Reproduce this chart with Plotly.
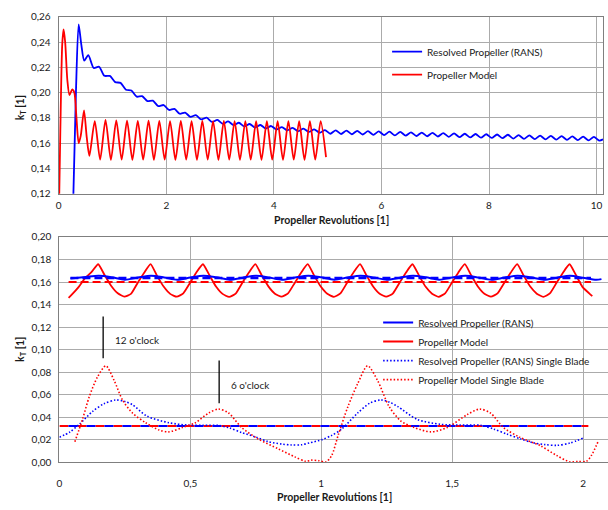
import plotly.graph_objects as go

# ---------------- TOP CHART DATA ----------------
top_rans_x = [0.27, 0.32, 0.37, 0.42, 0.475, 0.55, 0.65, 0.75,
              0.85, 0.95, 1.05, 1.15, 1.25, 1.35, 1.45, 1.55, 1.65, 1.75, 1.85, 1.95,
              2.05, 2.15, 2.25, 2.35, 2.45, 2.55, 2.65, 2.75, 2.85, 2.95,
              3.05, 3.15, 3.25, 3.35, 3.45, 3.55, 3.65, 3.75, 3.85, 3.95,
              4.05, 4.15, 4.25, 4.35, 4.45, 4.55, 4.65, 4.75, 4.85, 4.95,
              5.05, 5.15, 5.25, 5.35, 5.45, 5.55, 5.65, 5.75, 5.85, 5.95,
              6.05, 6.15, 6.25, 6.35, 6.45, 6.55, 6.65, 6.75, 6.85, 6.95,
              7.05, 7.15, 7.25, 7.35, 7.45, 7.55, 7.65, 7.75, 7.85, 7.95,
              8.05, 8.15, 8.25, 8.35, 8.45, 8.55, 8.65, 8.75, 8.85, 8.95,
              9.05, 9.15, 9.25, 9.35, 9.45, 9.55, 9.65, 9.75, 9.85, 9.95,
              10.05, 10.12]
top_rans_kt = [0.115, 0.200, 0.254, 0.238, 0.2253, 0.2297, 0.2195, 0.2205,
               0.2133, 0.2132, 0.2083, 0.2077, 0.2023, 0.2017, 0.1968, 0.1972, 0.1933, 0.1937, 0.1893, 0.1902,
               0.1863, 0.1872, 0.1833, 0.1842, 0.1808, 0.1822, 0.1788, 0.1802, 0.1768, 0.1784,
               0.1753, 0.1772, 0.1743, 0.1762, 0.1733, 0.1752, 0.1724, 0.1744, 0.1716, 0.1736,
               0.1708, 0.1728, 0.1701, 0.1722, 0.1695, 0.1716, 0.1689, 0.1710, 0.1683, 0.1704,
               0.1675, 0.1702, 0.1673, 0.1700, 0.1671, 0.1698, 0.1669, 0.1695, 0.1666, 0.1693,
               0.1664, 0.1691, 0.1662, 0.1689, 0.1660, 0.1686, 0.1657, 0.1684, 0.1655, 0.1682,
               0.1653, 0.1680, 0.1651, 0.1678, 0.1648, 0.1675, 0.1646, 0.1673, 0.1644, 0.1671,
               0.1642, 0.1669, 0.1640, 0.1667, 0.1637, 0.1664, 0.1635, 0.1662, 0.1633, 0.1660,
               0.1631, 0.1658, 0.1629, 0.1656, 0.1627, 0.1654, 0.1625, 0.1652, 0.1623, 0.1650,
               0.1621, 0.1630]

top_model_x = [0.0, 0.03, 0.065, 0.09, 0.12, 0.16, 0.20, 0.25, 0.29, 0.33, 0.37, 0.41, 0.47, 0.52, 0.57,
               0.67, 0.77, 0.87, 0.97, 1.07, 1.17, 1.27, 1.37, 1.47, 1.57, 1.67, 1.77, 1.87, 1.97,
               2.07, 2.17, 2.27, 2.37, 2.47, 2.57, 2.67, 2.77, 2.87, 2.97,
               3.07, 3.17, 3.27, 3.37, 3.47, 3.57, 3.67, 3.77, 3.87, 3.97,
               4.07, 4.17, 4.27, 4.37, 4.47, 4.57, 4.67, 4.77, 4.87, 4.97]
top_model_kt = [0.095, 0.170, 0.238, 0.250, 0.240, 0.210, 0.198, 0.2025, 0.200, 0.180, 0.160, 0.166, 0.186, 0.165, 0.150,
                0.1775, 0.1470, 0.1785, 0.1468, 0.1780, 0.1470, 0.1778, 0.1468, 0.1776, 0.1470, 0.1778, 0.1468, 0.1776, 0.1470,
                0.1775, 0.1468, 0.1776, 0.1470, 0.1774, 0.1468, 0.1776, 0.1470, 0.1775, 0.1468,
                0.1776, 0.1470, 0.1774, 0.1468, 0.1775, 0.1470, 0.1774, 0.1468, 0.1775, 0.1470,
                0.1774, 0.1468, 0.1775, 0.1470, 0.1774, 0.1468, 0.1775, 0.1470, 0.1775, 0.1490]

# ---------------- BOTTOM CHART DATA ----------------
bot_rans_x = [0.042, 0.10, 0.15, 0.20, 0.25, 0.30, 0.35, 0.40, 0.45, 0.50, 0.55, 0.60, 0.65, 0.70,
              0.75, 0.80, 0.85, 0.90, 0.95, 1.00, 1.05, 1.10, 1.15, 1.20, 1.25, 1.30, 1.35, 1.40,
              1.45, 1.50, 1.55, 1.60, 1.65, 1.70, 1.75, 1.80, 1.85, 1.90, 1.95, 2.00, 2.05, 2.07]
bot_rans_kt = [0.1632, 0.1645, 0.1655, 0.1642, 0.1621, 0.1640, 0.1656, 0.1641, 0.1620, 0.1640, 0.1656, 0.1642, 0.1621, 0.1639,
               0.1655, 0.1641, 0.1620, 0.1640, 0.1656, 0.1642, 0.1621, 0.1640, 0.1655, 0.1641, 0.1620, 0.1639, 0.1656, 0.1642,
               0.1621, 0.1640, 0.1655, 0.1641, 0.1620, 0.1640, 0.1656, 0.1642, 0.1621, 0.1639, 0.1655, 0.1638, 0.1620, 0.1626]

bot_model_x = [0.035, 0.048, 0.073, 0.098, 0.123, 0.148, 0.173, 0.198, 0.223, 0.248,
               0.273, 0.298, 0.323, 0.348, 0.373, 0.398, 0.423, 0.448, 0.473, 0.498,
               0.523, 0.548, 0.573, 0.598, 0.623, 0.648, 0.673, 0.698, 0.723, 0.748,
               0.773, 0.798, 0.823, 0.848, 0.873, 0.898, 0.923, 0.948, 0.973, 0.998,
               1.023, 1.048, 1.073, 1.098, 1.123, 1.148, 1.173, 1.198, 1.223, 1.248,
               1.273, 1.298, 1.323, 1.348, 1.373, 1.398, 1.423, 1.448, 1.473, 1.498,
               1.523, 1.548, 1.573, 1.598, 1.623, 1.648, 1.673, 1.698, 1.723, 1.748,
               1.773, 1.798, 1.823, 1.848, 1.873, 1.898, 1.923, 1.948, 1.973, 1.998,
               2.023, 2.035]
bot_model_kt = [0.1460, 0.1490, 0.1555, 0.1635, 0.1690, 0.1758, 0.1660, 0.1565, 0.1500, 0.1470,
                0.1495, 0.1590, 0.1680, 0.1760, 0.1655, 0.1560, 0.1495, 0.1470, 0.1500, 0.1590,
                0.1685, 0.1758, 0.1660, 0.1560, 0.1495, 0.1468, 0.1498, 0.1592, 0.1682, 0.1760,
                0.1658, 0.1562, 0.1497, 0.1470, 0.1500, 0.1590, 0.1683, 0.1759, 0.1657, 0.1560,
                0.1496, 0.1469, 0.1499, 0.1591, 0.1684, 0.1760, 0.1658, 0.1561, 0.1496, 0.1470,
                0.1498, 0.1590, 0.1682, 0.1758, 0.1659, 0.1560, 0.1497, 0.1469, 0.1500, 0.1591,
                0.1683, 0.1759, 0.1658, 0.1561, 0.1496, 0.1470, 0.1499, 0.1590, 0.1682, 0.1760,
                0.1657, 0.1560, 0.1497, 0.1469, 0.1499, 0.1591, 0.1683, 0.1758, 0.1660, 0.1555,
                0.1500, 0.1475]

rans_mean_x = [0.042, 2.03]
rans_mean_kt = [0.1637, 0.1637]
model_mean_x = [0.035, 2.03]
model_mean_kt = [0.1600, 0.1600]

blade_rans_x = [0.000, 0.040, 0.076, 0.127, 0.170, 0.215, 0.250, 0.279, 0.335, 0.418, 0.494, 0.550, 0.608,
                0.650, 0.696, 0.750, 0.797, 0.850, 0.886, 0.924, 0.955, 1.003, 1.040, 1.077, 1.139, 1.185,
                1.228, 1.260, 1.291, 1.367, 1.456, 1.530, 1.608, 1.660, 1.709, 1.760, 1.811, 1.855, 1.900,
                1.950, 2.000]
blade_rans_kt = [0.0223, 0.0270, 0.0338, 0.0453, 0.0520, 0.0554, 0.0540, 0.0511, 0.0410, 0.0352, 0.0330, 0.0329, 0.0328,
                 0.0305, 0.0265, 0.0225, 0.0184, 0.0162, 0.0155, 0.0156, 0.0173, 0.0202, 0.0240, 0.0294, 0.0438, 0.0525,
                 0.0554, 0.0535, 0.0497, 0.0381, 0.0338, 0.0331, 0.0329, 0.0295, 0.0251, 0.0210, 0.0173, 0.0158, 0.0151,
                 0.0172, 0.0216]

blade_model_x = [0.059, 0.088, 0.114, 0.145, 0.177, 0.209, 0.241, 0.279, 0.329, 0.380, 0.418, 0.469, 0.519,
                 0.570, 0.608, 0.646, 0.696, 0.759, 0.835, 0.899, 0.940, 0.962, 0.990, 1.019, 1.040, 1.064,
                 1.102, 1.139, 1.177, 1.215, 1.259, 1.304, 1.355, 1.418, 1.481, 1.557, 1.605, 1.646, 1.696,
                 1.759, 1.835, 1.898, 1.949, 1.980, 2.013, 2.032, 2.057]
blade_model_kt = [0.0184, 0.0381, 0.0583, 0.0756, 0.0857, 0.0727, 0.0554, 0.0438, 0.0352, 0.0288, 0.0271, 0.0309, 0.0352,
                  0.0438, 0.0473, 0.0438, 0.0309, 0.0208, 0.0121, 0.0049, 0.0010, 0.0020, 0.0015, 0.0005, 0.0063, 0.0237,
                  0.0496, 0.0698, 0.0857, 0.0727, 0.0496, 0.0367, 0.0309, 0.0271, 0.0309, 0.0424, 0.0473, 0.0438, 0.0309,
                  0.0222, 0.0150, 0.0063, 0.0005, 0.0008, 0.0010, 0.0063, 0.0184]

blade_mean_x = [0.0, 2.02]
blade_rans_mean_kt = [0.0323, 0.0323]
blade_model_mean_kt = [0.0323, 0.0323]

# clock position markers
clock_labels = ["12 o'clock", "6 o'clock"]
clock_x = [0.167, 0.61]
clock_y0 = [0.0924, 0.0525]
clock_y1 = [0.1295, 0.0905]
clock_text_x = [0.203, 0.646]
clock_text_y = [0.1085, 0.069]

top_xticks = [0, 2, 4, 6, 8, 10]
bot_xticks = [0, 0.5, 1, 1.5, 2]

BLUE = "#0000ff"
RED = "#ff0000"
FONT = "Lato"
GRID = "#ababab"
AXIS = "#7f7f7f"
TXT = "#1a1a1a"
DOT = "1.5px,2px"

fig = go.Figure()

# top chart
fig.add_trace(go.Scatter(x=top_rans_x, y=top_rans_kt, mode="lines", name="Resolved Propeller (RANS)",
                         line=dict(color=BLUE, width=1.8, shape="spline", smoothing=0.7),
                         xaxis="x", yaxis="y", legend="legend"))
fig.add_trace(go.Scatter(x=top_model_x, y=top_model_kt, mode="lines", name="Propeller Model",
                         line=dict(color=RED, width=1.8, shape="spline", smoothing=0.7),
                         xaxis="x", yaxis="y", legend="legend", legendgroup="b"))

# bottom chart
fig.add_trace(go.Scatter(x=bot_model_x, y=bot_model_kt, mode="lines", name="Propeller Model",
                         line=dict(color=RED, width=1.8, shape="spline", smoothing=0.5),
                         xaxis="x2", yaxis="y2", showlegend=False))
fig.add_trace(go.Scatter(x=model_mean_x, y=model_mean_kt, mode="lines",
                         line=dict(color=RED, width=2, dash="8px,4px"),
                         xaxis="x2", yaxis="y2", showlegend=False))
fig.add_trace(go.Scatter(x=rans_mean_x, y=rans_mean_kt, mode="lines",
                         line=dict(color=BLUE, width=2.5, dash="8px,4px"),
                         xaxis="x2", yaxis="y2", showlegend=False))
fig.add_trace(go.Scatter(x=bot_rans_x, y=bot_rans_kt, mode="lines", name="Resolved Propeller (RANS)",
                         line=dict(color=BLUE, width=2, shape="spline", smoothing=0.8),
                         xaxis="x2", yaxis="y2", legend="legend2", legendgroup="c"))
# legend-only entry for the bottom legend ordering
fig.add_trace(go.Scatter(x=[None], y=[None], mode="lines", name="Propeller Model",
                         line=dict(color=RED, width=2),
                         xaxis="x2", yaxis="y2", legend="legend2", legendgroup="d"))
fig.add_trace(go.Scatter(x=blade_mean_x, y=blade_model_mean_kt, mode="lines",
                         line=dict(color=RED, width=2, dash="9px,9px"),
                         xaxis="x2", yaxis="y2", showlegend=False))
fig.add_trace(go.Scatter(x=blade_mean_x, y=blade_rans_mean_kt, mode="lines",
                         line=dict(color=BLUE, width=2, dash="0px,9px,9px,0px"),
                         xaxis="x2", yaxis="y2", showlegend=False))
fig.add_trace(go.Scatter(x=blade_rans_x, y=blade_rans_kt, mode="lines", name="Resolved Propeller (RANS) Single Blade",
                         line=dict(color=BLUE, width=1.6, dash=DOT, shape="spline", smoothing=0.8),
                         xaxis="x2", yaxis="y2", legend="legend2", legendgroup="e"))
fig.add_trace(go.Scatter(x=blade_model_x, y=blade_model_kt, mode="lines", name="Propeller Model Single Blade",
                         line=dict(color=RED, width=1.6, dash=DOT, shape="spline", smoothing=0.8),
                         xaxis="x2", yaxis="y2", legend="legend2", legendgroup="f"))

W, H = 608, 510
def px(v):
    return v / W
def py(v):
    return 1 - v / H

tickfont = dict(family=FONT, size=10, color=TXT)
common_axis = dict(showgrid=True, gridcolor=GRID, gridwidth=1.2, zeroline=False,
                   showline=True, linecolor=AXIS, linewidth=1.3, tickfont=tickfont,
                   ticks="outside", tickcolor="rgba(0,0,0,0)")

shapes = []
annotations = []
for lbl, cx, y0, y1, tx, ty in zip(clock_labels, clock_x, clock_y0, clock_y1, clock_text_x, clock_text_y):
    shapes.append(dict(type="line", xref="x2", yref="y2", x0=cx, x1=cx, y0=y0, y1=y1,
                       line=dict(color="#000000", width=1.3)))
    annotations.append(dict(xref="x2", yref="y2", x=tx, y=ty, text=lbl, showarrow=False,
                            xanchor="left", yanchor="middle", font=dict(family=FONT, size=10, color=TXT)))

titlefont = dict(family=FONT, size=10.5, color=TXT)
annotations += [
    dict(xref="paper", yref="paper", x=px(330), y=py(219), text="<b>Propeller Revolutions [1]</b>",
         showarrow=False, xanchor="center", yanchor="middle", font=titlefont),
    dict(xref="paper", yref="paper", x=px(333), y=py(503), text="<b>Propeller Revolutions [1]</b>",
         showarrow=False, xanchor="center", yanchor="middle", font=titlefont),
    dict(xref="paper", yref="paper", x=px(18), y=py(103), text="<b>k<sub>T</sub> [1]</b>", textangle=-90,
         showarrow=False, xanchor="center", yanchor="middle", font=titlefont),
    dict(xref="paper", yref="paper", x=px(18), y=py(351), text="<b>k<sub>T</sub> [1]</b>", textangle=-90,
         showarrow=False, xanchor="center", yanchor="middle", font=titlefont),
]

legfont = dict(family=FONT, size=10, color=TXT)
fig.update_layout(
    width=W, height=H,
    margin=dict(l=0, r=0, t=0, b=0),
    paper_bgcolor="white", plot_bgcolor="white",
    separators=",.",
    font=dict(family=FONT, size=10, color=TXT),
    xaxis=dict(domain=[px(56), px(603)], range=[0, 10.12], tickvals=top_xticks, anchor="y",
               mirror=True, ticklen=2, **common_axis),
    yaxis=dict(domain=[py(191.7), py(10)], range=[0.12, 0.26], dtick=0.02, tickformat=".2f", anchor="x",
               mirror=True, ticklen=5, **common_axis),
    xaxis2=dict(domain=[px(56.7), 1.0], range=[0, 2.095], tickvals=bot_xticks, anchor="y2",
                mirror=True, ticklen=11, **common_axis),
    yaxis2=dict(domain=[py(467.3), py(236)], range=[0, 0.20], dtick=0.02, tickformat=".2f", anchor="x2",
                ticklen=5, **common_axis),
    legend=dict(x=px(386), y=py(31), xanchor="left", yanchor="top", bgcolor="rgba(0,0,0,0)",
                font=legfont, tracegroupgap=4, itemwidth=30),
    legend2=dict(x=px(377), y=py(309), xanchor="left", yanchor="top", bgcolor="rgba(0,0,0,0)",
                 font=legfont, tracegroupgap=0, itemwidth=30),
    shapes=shapes,
    annotations=annotations,
)

fig.write_html("out.html")
